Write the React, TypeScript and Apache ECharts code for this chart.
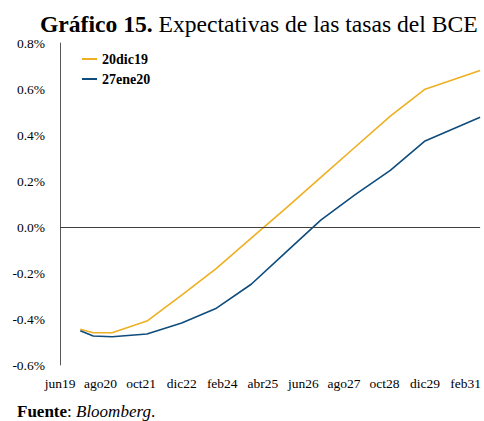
import React, { useEffect, useRef } from "react";
import * as echarts from "echarts";

// Dates of each point on the expected-rate curves (YYYY-MM-DD)
const pointDates = [
  "2020-01-01", "2020-05-15", "2020-12-01", "2021-12-01", "2022-12-01", "2023-12-01",
  "2024-12-01", "2025-12-01", "2026-12-01", "2027-12-01", "2028-12-01", "2029-12-01", "2031-07-01",
];
const series20dic19 = [-0.445, -0.46, -0.46, -0.409, -0.296, -0.18, -0.048, 0.082, 0.216, 0.349, 0.482, 0.599, 0.68];
const series27ene20 = [-0.451, -0.474, -0.477, -0.465, -0.417, -0.353, -0.249, -0.109, 0.03, 0.142, 0.246, 0.374, 0.477];
const seriesNames = ["20dic19", "27ene20"];
const xTickLabels = ["jun19", "ago20", "oct21", "dic22", "feb24", "abr25", "jun26", "ago27", "oct28", "dic29", "feb31"];
const yTicks = [-0.6, -0.4, -0.2, 0.0, 0.2, 0.4, 0.6, 0.8];

const ORIGIN_YEAR = 2019;
const ORIGIN_MONTH = 6;
const TICK_STEP = 14;
const AXIS_END_MONTHS = 145;

function monthsFromOrigin(d: string): number {
  const [y, m, day] = d.split("-").map(Number);
  return (y - ORIGIN_YEAR) * 12 + (m - ORIGIN_MONTH) + (day - 1) / 30;
}

const FONT = "'Liberation Serif', 'Times New Roman', Times, serif";

export default function App() {
  const ref = useRef<HTMLDivElement>(null);
  useEffect(() => {
    if (!ref.current) return;
    const chart = echarts.init(ref.current, null, { renderer: "svg" });
    const xs = pointDates.map(monthsFromOrigin);
    const mk = (vals: number[]) => vals.map((v, i) => [xs[i], v]);
    chart.setOption({
      animation: false,
      backgroundColor: "#ffffff",
      textStyle: { fontFamily: FONT },
      title: [
        {
          text: "{b|Gráfico 15.}{n| Expectativas de las tasas del BCE}",
          left: 35,
          top: 7,
          textStyle: {
            fontWeight: "normal",
            fontFamily: FONT,
            rich: {
              b: { fontFamily: FONT, fontSize: 23.6, fontWeight: "bold", color: "#000" },
              n: { fontFamily: FONT, fontSize: 23.6, fontWeight: "normal", color: "#000" },
            },
          },
        },
        {
          text: "{b|Fuente}{n|: }{i|Bloomberg}{n|.}",
          left: 12,
          top: 398,
          textStyle: {
            fontWeight: "normal",
            fontFamily: FONT,
            rich: {
              b: { fontFamily: FONT, fontSize: 17, fontWeight: "bold", color: "#000" },
              n: { fontFamily: FONT, fontSize: 17, fontWeight: "normal", color: "#000" },
              i: { fontFamily: FONT, fontSize: 17, fontWeight: "normal", fontStyle: "italic", color: "#000" },
            },
          },
        },
      ],
      legend: {
        orient: "vertical",
        left: 77,
        top: 47,
        itemWidth: 15,
        itemHeight: 2,
        itemGap: 6,
        icon: "rect",
        data: seriesNames,
        textStyle: { fontFamily: FONT, fontSize: 14, fontWeight: "bold", color: "#000" },
      },
      grid: { left: 60, right: 1, top: 43, bottom: 56, containLabel: false },
      xAxis: {
        type: "value",
        min: 0,
        max: AXIS_END_MONTHS,
        interval: TICK_STEP,
        axisLine: { show: false },
        axisTick: { show: false },
        splitLine: { show: false },
        axisLabel: {
          showMaxLabel: false,
          margin: 11,
          fontFamily: FONT,
          fontSize: 13.5,
          color: "#000",
          formatter: (v: number) => {
            const k = Math.round(v / TICK_STEP);
            return Math.abs(v - k * TICK_STEP) < 1e-6 && xTickLabels[k] ? xTickLabels[k] : "";
          },
        },
      },
      yAxis: {
        type: "value",
        min: yTicks[0],
        max: yTicks[yTicks.length - 1],
        interval: 0.2,
        axisLine: { show: true, lineStyle: { color: "#595959", width: 1 } },
        axisTick: { show: false },
        splitLine: { show: false },
        axisLabel: {
          margin: 15,
          fontFamily: FONT,
          fontSize: 13.5,
          color: "#000",
          formatter: (v: number) => v.toFixed(1) + "%",
        },
      },
      series: [
        {
          name: seriesNames[0],
          type: "line",
          data: mk(series20dic19),
          showSymbol: false,
          symbol: "none",
          lineStyle: { color: "#EEAF22", width: 1.6 },
          itemStyle: { color: "#EEAF22" },
          markLine: {
            silent: true,
            symbol: "none",
            label: { show: false },
            lineStyle: { color: "#404040", width: 1.2, type: "solid" },
            data: [{ yAxis: 0 }],
          },
          z: 3,
        },
        {
          name: seriesNames[1],
          type: "line",
          data: mk(series27ene20),
          showSymbol: false,
          symbol: "none",
          lineStyle: { color: "#0E4C7D", width: 1.6 },
          itemStyle: { color: "#0E4C7D" },
          z: 3,
        },
      ],
    });
    return () => chart.dispose();
  }, []);
  return (
    <div
      ref={ref}
      style={{ position: "fixed", left: 0, top: 0, width: 484, height: 421, background: "#fff" }}
    />
  );
}
